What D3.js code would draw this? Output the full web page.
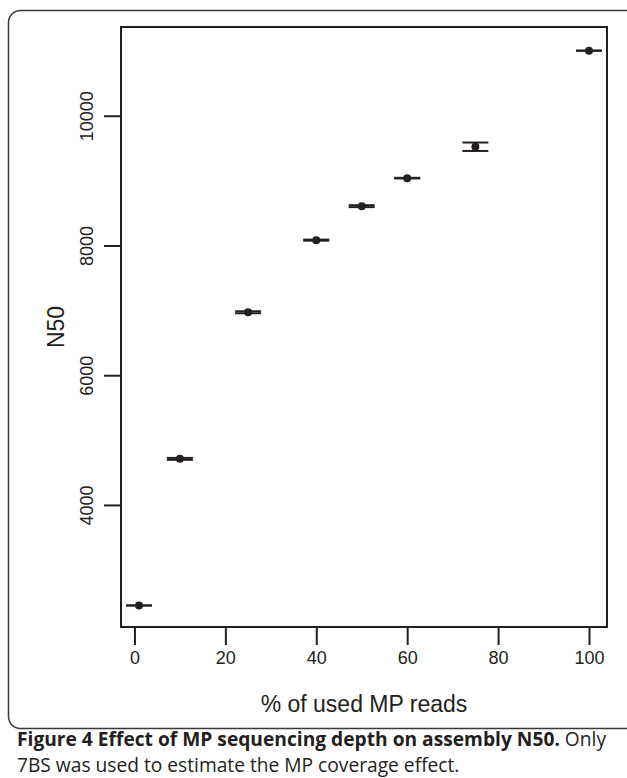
<!DOCTYPE html>
<html lang="en">
<head>
    <meta charset="UTF-8">
    <title>Effect of MP sequencing depth on assembly N50</title>
    <script src="https://d3js.org/d3.v7.min.js"></script>
    <style>
        body { margin: 0; background: #fff; }
        .caption { font-family: "Open Sans", sans-serif; font-size: 19.2px; fill: #231f20; }
        .axis text { font-family: "Liberation Sans", Arial, sans-serif; font-size: 18px; fill: #231f20; }
    </style>
</head>
<body>
    <svg id="chart" width="627" height="778"></svg>

    <script>
        // data
        const pct = [1, 10, 25, 40, 50, 60, 75, 100];
        const n50 = [2450, 4710, 6970, 8082, 8606, 9038, 9522, 11003];
        const err = [0, 15, 15, 8, 15, 5, 65, 0];
        const xTicks = [0, 20, 40, 60, 80, 100];
        const yTicks = [4000, 6000, 8000, 10000];

        const width = 627;
        const height = 778;
        const box = { left: 121, right: 607, top: 27, bottom: 627 };
        const ink = '#231f20';

        const svg = d3.select('#chart');

        // rounded frame around the figure
        svg.append('rect')
            .attr('x', 8.5).attr('y', 10.5)
            .attr('width', 640).attr('height', 718)
            .attr('rx', 12)
            .attr('fill', 'none')
            .attr('stroke', '#3a3a3a')
            .attr('stroke-width', 1.5);

        const x = d3.scaleLinear()
            .domain([-2.96, 103.96])
            .range([box.left, box.right]);

        const y = d3.scaleLinear()
            .domain([2118, 11368])
            .range([box.bottom, box.top]);

        // plot box
        svg.append('rect')
            .attr('x', box.left).attr('y', box.top)
            .attr('width', box.right - box.left)
            .attr('height', box.bottom - box.top)
            .attr('fill', 'none')
            .attr('stroke', ink)
            .attr('stroke-width', 2);

        // axes, R style
        const xAxis = svg.append('g')
            .attr('class', 'axis')
            .attr('transform', `translate(0,${box.bottom})`)
            .call(d3.axisBottom(x).tickValues(xTicks).tickSize(18).tickPadding(6).tickSizeOuter(0));
        xAxis.select('.domain').remove();
        xAxis.selectAll('.tick line').attr('stroke', ink).attr('stroke-width', 2);

        const yAxis = svg.append('g')
            .attr('class', 'axis')
            .attr('transform', `translate(${box.left},0)`)
            .call(d3.axisLeft(y).tickValues(yTicks).tickSize(17).tickFormat(d3.format('d')));
        yAxis.select('.domain').remove();
        yAxis.selectAll('.tick line').attr('stroke', ink).attr('stroke-width', 2);
        yAxis.selectAll('.tick text')
            .attr('x', 0).attr('dy', 0)
            .attr('text-anchor', 'middle')
            .attr('transform', 'translate(-28,0) rotate(-90)');

        // axis titles
        svg.append('text')
            .attr('x', (box.left + box.right) / 2)
            .attr('y', 712)
            .attr('text-anchor', 'middle')
            .style('font-family', '"Liberation Sans", Arial, sans-serif')
            .style('font-size', '23px')
            .attr('fill', ink)
            .text('% of used MP reads');

        svg.append('text')
            .attr('transform', `translate(64,${(box.top + box.bottom) / 2}) rotate(-90)`)
            .attr('text-anchor', 'middle')
            .style('font-family', '"Liberation Sans", Arial, sans-serif')
            .style('font-size', '23px')
            .attr('fill', ink)
            .text('N50');

        // error bars with caps
        const capHalf = 13;
        const pts = pct.map((p, i) => ({ p, v: n50[i], e: err[i] }));

        const bars = svg.append('g').attr('stroke', ink).attr('stroke-width', 2);
        bars.selectAll('.cap-hi')
            .data(pts)
            .join('line')
            .attr('x1', d => x(d.p) - capHalf).attr('x2', d => x(d.p) + capHalf)
            .attr('y1', d => y(d.v + d.e)).attr('y2', d => y(d.v + d.e));
        bars.selectAll('.cap-lo')
            .data(pts)
            .join('line')
            .attr('x1', d => x(d.p) - capHalf).attr('x2', d => x(d.p) + capHalf)
            .attr('y1', d => y(d.v - d.e)).attr('y2', d => y(d.v - d.e));
        bars.selectAll('.stem')
            .data(pts)
            .join('line')
            .attr('x1', d => x(d.p)).attr('x2', d => x(d.p))
            .attr('y1', d => y(d.v + d.e)).attr('y2', d => y(d.v - d.e));

        svg.append('g')
            .selectAll('circle')
            .data(pts)
            .join('circle')
            .attr('cx', d => x(d.p))
            .attr('cy', d => y(d.v))
            .attr('r', 4)
            .attr('fill', ink);

        // caption
        const cap = svg.append('g').attr('class', 'caption');
        const line1 = cap.append('text').attr('x', 17).attr('y', 746);
        line1.append('tspan').attr('font-weight', 'bold')
            .text('Figure 4 Effect of MP sequencing depth on assembly N50.');
        line1.append('tspan').text(' Only');
        cap.append('text').attr('x', 17).attr('y', 772)
            .text('7BS was used to estimate the MP coverage effect.');
    </script>
</body>
</html>
